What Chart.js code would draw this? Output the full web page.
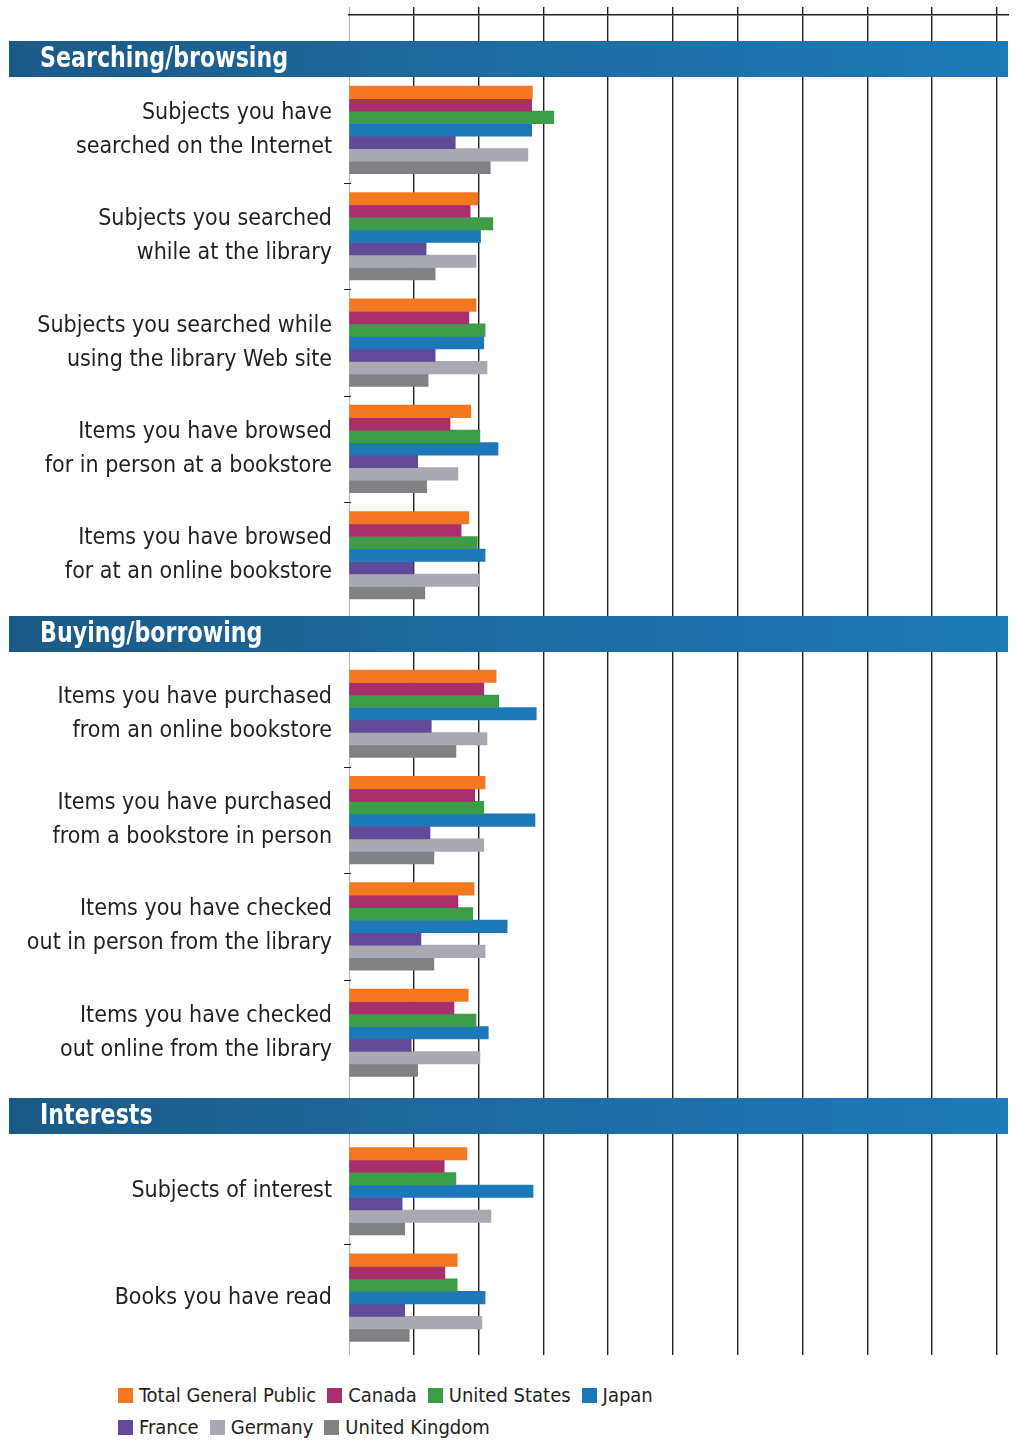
<!DOCTYPE html>
<html>
<head>
<meta charset="utf-8">
<script src="https://cdn.jsdelivr.net/npm/chart.js@4.4.1/dist/chart.umd.min.js"></script>
<style>
	body { margin: 0; background: #ffffff; }
	#wrap { position: relative; width: 1016px; height: 1440px; }
	#box { position: absolute; left: 0; top: 0; width: 1016px; height: 1362px; }
	#legenda {
		position: absolute; left: 118px; top: 1380px; width: 700px;
		font-family: "DejaVu Sans Condensed", "Liberation Sans Narrow", sans-serif;
		font-size: 20px; line-height: 31px; color: #231f20;
	}
	#legenda span.item { display: inline-flex; align-items: center; margin-right: 11px; white-space: nowrap; }
	#legenda span.cor { display: inline-block; width: 15px; height: 15px; margin-right: 6px; }
</style>
</head>
<body>
<div id="wrap">
	<div id="box"><canvas id="grafico"></canvas></div>
	<div id="legenda"></div>
</div>
<script>
// Dados do gráfico
var secoes = ["Searching/browsing", "Buying/borrowing", "Interests"];
var qtdPorSecao = [5, 4, 2];

var categorias = [
	["Subjects you have", "searched on the Internet"],
	["Subjects you searched", "while at the library"],
	["Subjects you searched while", "using the library Web site"],
	["Items you have browsed", "for in person at a bookstore"],
	["Items you have browsed", "for at an online bookstore"],
	["Items you have purchased", "from an online bookstore"],
	["Items you have purchased", "from a bookstore in person"],
	["Items you have checked", "out in person from the library"],
	["Items you have checked", "out online from the library"],
	"Subjects of interest",
	"Books you have read",
];

var nomesSeries = ["Total General Public", "Canada", "United States", "Japan", "France", "Germany", "United Kingdom"];
var coresSeries = ["#f47721", "#a92e6c", "#3d9c47", "#1d78b7", "#614a98", "#a9a9b2", "#808184"];

var totalGeneralPublic = [28.3, 19.9, 19.6, 18.8, 18.5, 22.7, 21.0, 19.3, 18.4, 18.2, 16.7];
var canada = [28.2, 18.7, 18.5, 15.6, 17.3, 20.8, 19.4, 16.8, 16.2, 14.7, 14.8];
var unitedStates = [31.6, 22.2, 21.0, 20.2, 19.8, 23.1, 20.8, 19.1, 19.6, 16.5, 16.7];
var japan = [28.2, 20.3, 20.8, 23.0, 21.0, 28.9, 28.7, 24.4, 21.5, 28.4, 21.0];
var france = [16.4, 11.9, 13.3, 10.6, 9.9, 12.7, 12.5, 11.1, 9.6, 8.2, 8.6];
var germany = [27.6, 19.6, 21.3, 16.8, 20.0, 21.3, 20.8, 21.0, 20.2, 21.9, 20.5];
var unitedKingdom = [21.8, 13.3, 12.2, 12.0, 11.7, 16.5, 13.1, 13.1, 10.6, 8.6, 9.3];

var valoresSeries = [totalGeneralPublic, canada, unitedStates, japan, france, germany, unitedKingdom];

var ticksX = [0, 10, 20, 30, 40, 50, 60, 70, 80, 90, 100];

// posição de cada categoria no eixo (espaço extra entre as seções)
var espacoSecao = 0.49;
var recuoFaixa = [0.67, 0.745, 0.705]; // distância da faixa azul até a primeira categoria da seção
var posicoes = [];
var inicioSecao = [];
var secaoDaCategoria = [];
var k = 0;
for (var s = 0; s < qtdPorSecao.length; s++) {
	for (var j = 0; j < qtdPorSecao[s]; j++) {
		if (j == 0) inicioSecao.push(k + s * espacoSecao);
		posicoes.push(k + s * espacoSecao);
		secaoDaCategoria.push(s);
		k++;
	}
}

var fonteTexto = '"DejaVu Sans Condensed", "Liberation Sans Narrow", sans-serif';

// faixas azuis dos títulos e tracinhos do eixo da esquerda
var faixasPlugin = {
	id: "faixas",
	afterDraw: function (chart) {
		var ctx = chart.ctx;
		var y = chart.scales.y;
		ctx.save();

		ctx.strokeStyle = "#231f20";
		ctx.lineWidth = 1;
		for (var i = 0; i < posicoes.length - 1; i++) {
			if (secaoDaCategoria[i] != secaoDaCategoria[i + 1]) continue;
			var py = Math.round(y.getPixelForValue((posicoes[i] + posicoes[i + 1]) / 2)) + 0.5;
			ctx.beginPath();
			ctx.moveTo(344, py);
			ctx.lineTo(351, py);
			ctx.stroke();
		}

		for (var s = 0; s < secoes.length; s++) {
			var centro = y.getPixelForValue(inicioSecao[s] - recuoFaixa[s]);
			var topo = Math.round(centro - 18);
			var grad = ctx.createLinearGradient(9, 0, 1008, 0);
			grad.addColorStop(0, "#1b5a86");
			grad.addColorStop(0.5, "#1e6ba1");
			grad.addColorStop(1, "#1c7ab8");
			ctx.fillStyle = grad;
			ctx.fillRect(9, topo, 999, 36);

			// texto um pouco comprimido na horizontal, como a fonte condensada do original
			ctx.save();
			ctx.translate(40, topo + 19);
			ctx.scale(0.88, 1);
			ctx.fillStyle = "#ffffff";
			ctx.font = "bold 28px " + fonteTexto;
			ctx.textAlign = "left";
			ctx.textBaseline = "middle";
			ctx.fillText(secoes[s], 0, 0);
			ctx.restore();
		}
		ctx.restore();
	},
};

var datasets = [];
for (var i = 0; i < nomesSeries.length; i++) {
	var pontos = [];
	for (var c = 0; c < posicoes.length; c++) {
		pontos.push({ x: valoresSeries[i][c], y: posicoes[c] });
	}
	datasets.push({
		label: nomesSeries[i],
		data: pontos,
		backgroundColor: coresSeries[i],
		borderWidth: 0,
		barThickness: 12.5,
	});
}

var grafico = new Chart(document.getElementById("grafico"), {
	type: "bar",
	data: { datasets: datasets },
	options: {
		indexAxis: "y",
		responsive: true,
		maintainAspectRatio: false,
		animation: false,
		layout: { padding: { top: 7, right: 8, bottom: 7, left: 0 } },
		plugins: {
			legend: { display: false },
			tooltip: { enabled: false },
		},
		scales: {
			x: {
				type: "linear",
				position: "top",
				min: 0,
				max: 101.7,
				afterBuildTicks: function (axis) {
					axis.ticks = ticksX.map(function (v) { return { value: v }; });
				},
				ticks: { display: false },
				grid: {
					drawTicks: true,
					tickLength: 8,
					color: function (c) { return c.tick && c.tick.value == 0 ? "#b5b5b5" : "#231f20"; },
					lineWidth: function (c) { return c.tick && c.tick.value == 0 ? 1 : 1.4; },
				},
				border: { display: true, color: "#231f20", width: 1.4 },
			},
			y: {
				type: "linear",
				reverse: true,
				offset: false,
				min: -1.08,
				max: 11.52,
				afterBuildTicks: function (axis) {
					axis.ticks = posicoes.map(function (v) { return { value: v }; });
				},
				afterFit: function (axis) {
					axis.width = 349;
					axis.paddingTop = 0;
					axis.paddingBottom = 0;
				},
				ticks: {
					autoSkip: false,
					padding: 17,
					color: "#231f20",
					font: { family: fonteTexto, size: 23, lineHeight: 1.48 },
					callback: function (valor, indice) {
						return categorias[indice];
					},
				},
				grid: { display: false, drawTicks: false },
				border: { display: false },
			},
		},
	},
	plugins: [faixasPlugin],
});

// legenda em HTML, quebrando a linha depois de Japan como no original
var legenda = document.getElementById("legenda");
grafico.data.datasets.forEach(function (ds, i) {
	legenda.innerHTML += `<span class="item"><span class="cor" style="background:${ds.backgroundColor}"></span>${ds.label}</span>`;
	if (i == 3) legenda.innerHTML += "<br>";
});
</script>
</body>
</html>
